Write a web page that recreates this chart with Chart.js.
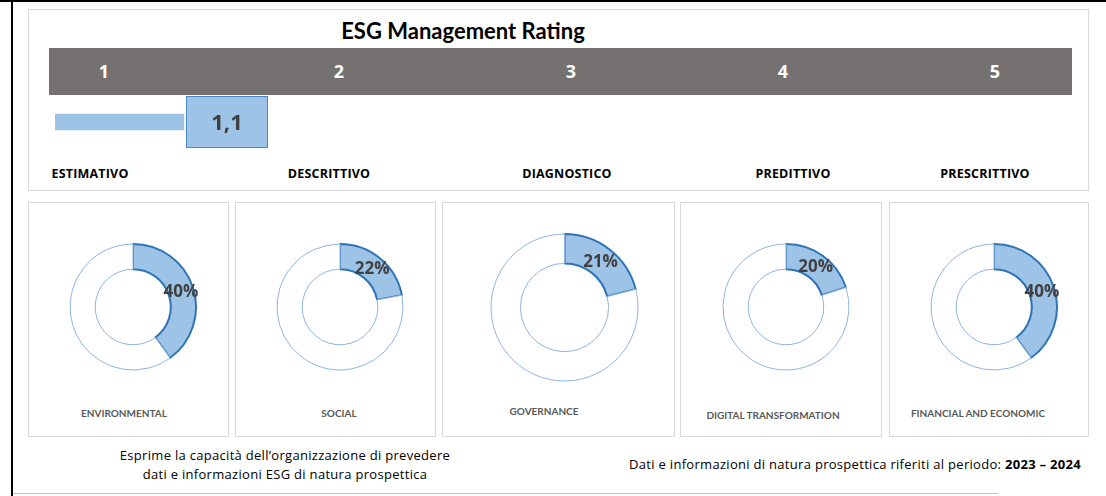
<!DOCTYPE html>
<html>
<head>
<meta charset="utf-8">
<script src="https://cdn.jsdelivr.net/npm/chart.js@4"></script>
<style>
  html, body { margin:0; padding:0; background:#fff; }
  body { width:1106px; height:496px; position:relative; overflow:hidden; font-family: Lato, "Open Sans", sans-serif; }
  .abs { position:absolute; }
  .frame { position:absolute; box-sizing:border-box; border:1px solid #D9D9D9; background:#fff; }
  .ctr { position:absolute; transform:translate(-50%,-50%); white-space:nowrap; }
  canvas { position:absolute; }
</style>
</head>
<body>
<script>
// ---- data ----
const chartTitle = 'ESG Management Rating';
const levels = ['1', '2', '3', '4', '5'];
const levelNames = ['ESTIMATIVO', 'DESCRITTIVO', 'DIAGNOSTICO', 'PREDITTIVO', 'PRESCRITTIVO'];
const ratingValue = [1.1];
const ratingMax = 5;
const areas = ['ENVIRONMENTAL', 'SOCIAL', 'GOVERNANCE', 'DIGITAL TRANSFORMATION', 'FINANCIAL AND ECONOMIC'];
const areaScores = [40, 22, 21, 20, 40];
const noteLines = ['Esprime la capacità dell’organizzazione di prevedere', 'dati e informazioni ESG di natura prospettica'];
const periodText = 'Dati e informazioni di natura prospettica riferiti al periodo: ';
const periodValue = '2023 – 2024';

// ---- layout (positions & styles) ----
const levelNumX = [104, 339, 571, 783, 995];
const levelNameX = [90, 329, 567, 793, 985];
const panelBoxes = [[28, 201], [235, 201], [442, 233], [680, 202], [889, 200]];
const donutGeo = [[133, 307, 63], [340, 307, 63], [564, 307, 73.5], [786, 307, 63], [994, 307, 63]];
const areaLabelPos = [[124, 413], [339, 413], [544, 411], [773, 415], [978, 413]];

function el(tag, cls, css, text) {
  const e = document.createElement(tag);
  if (cls) e.className = cls;
  Object.assign(e.style, css || {});
  if (text !== undefined) e.textContent = text;
  document.body.appendChild(e);
  return e;
}
const px = v => v + 'px';

// outer lines
el('div', 'abs', {left:'0px', top:'0px', width:'1106px', height:'2px', background:'#000'});
el('div', 'abs', {left:'11px', top:'0px', width:'2px', height:'496px', background:'#000'});
el('div', 'abs', {left:'13px', top:'493px', width:'985px', height:'1px', background:'#BFBFBF'});

// top panel
el('div', 'frame', {left:'28px', top:'9px', width:'1061px', height:'182px'});
el('div', 'ctr', {left:'463px', top:'30px', font:'bold 22px Lato', color:'#000'}, chartTitle);
el('div', 'abs', {left:'49px', top:'48px', width:'1023px', height:'47px', background:'#767171'});
levels.forEach((t, i) => el('div', 'ctr', {left:px(levelNumX[i]), top:'71px', font:'bold 18px "Open Sans"', color:'#fff'}, t));
levelNames.forEach((t, i) => el('div', 'ctr', {left:px(levelNameX[i]), top:'173px', font:'bold 12.5px "Open Sans"', letterSpacing:'0.2px', color:'#000'}, t));

// rating bar chart
const rc = el('canvas', '', {left:'55px', top:'96px'});
rc.width = 586; rc.height = 52;
rc.style.width = '586px'; rc.style.height = '52px';

const fmtIt = v => String(v).replace('.', ',');
const ratingBoxPlugin = {
  id: 'ratingBox',
  afterDatasetsDraw(chart) {
    const bar = chart.getDatasetMeta(0).data[0];
    const ctx = chart.ctx;
    const a = chart.chartArea;
    const x0 = Math.round(bar.x) + 2, w = 82;
    ctx.save();
    ctx.fillStyle = '#9DC3E6';
    ctx.fillRect(x0, a.top, w, a.height);
    ctx.strokeStyle = '#4A86C5';
    ctx.lineWidth = 1;
    ctx.strokeRect(x0 + 0.5, a.top + 0.5, w - 1, a.height - 1);
    ctx.fillStyle = '#404040';
    ctx.font = 'bold 22px "Open Sans"';
    ctx.textAlign = 'center';
    ctx.textBaseline = 'middle';
    ctx.fillText(fmtIt(chart.data.datasets[0].data[0]), x0 + w / 2, a.top + a.height / 2 + 2);
    ctx.restore();
  }
};

new Chart(rc, {
  type: 'bar',
  data: { labels: ['Rating'], datasets: [{ data: ratingValue, backgroundColor: '#9DC3E6', borderWidth: 0, barThickness: 16 }] },
  options: {
    indexAxis: 'y', responsive: false, animation: false, events: [],
    layout: { padding: 0 },
    plugins: { legend: { display: false }, tooltip: { enabled: false } },
    scales: { x: { display: false, min: 0, max: ratingMax }, y: { display: false } }
  },
  plugins: [ratingBoxPlugin]
});

// donut panels
const pctPlugin = {
  id: 'pctLabel',
  afterDatasetsDraw(chart) {
    const arc = chart.getDatasetMeta(0).data[0];
    const p = arc.tooltipPosition();
    const ctx = chart.ctx;
    ctx.save();
    ctx.fillStyle = '#404040';
    ctx.font = 'bold 17px "Open Sans"';
    ctx.textAlign = 'center';
    ctx.textBaseline = 'middle';
    ctx.fillText(chart.data.datasets[0].data[0] + '%', p.x, p.y + 1);
    ctx.restore();
  }
};

areas.forEach((name, i) => {
  const [bx, bw] = panelBoxes[i];
  el('div', 'frame', {left:px(bx), top:'202px', width:px(bw), height:'235px'});
  const [cx, cy, r] = donutGeo[i];
  const size = Math.ceil(2 * r + 12);
  const c = el('canvas', '', {left:px(cx - size / 2), top:px(cy - size / 2)});
  c.width = size; c.height = size;
  c.style.width = px(size); c.style.height = px(size);
  new Chart(c, {
    type: 'doughnut',
    data: {
      labels: [name, ''],
      datasets: [{
        data: [areaScores[i], 100 - areaScores[i]],
        backgroundColor: ['#9DC3E6', '#FFFFFF'],
        borderColor: ['#2E75B6', '#8DB4E2'],
        borderWidth: [2, 1]
      }]
    },
    options: {
      responsive: false, animation: false, events: [],
      radius: r, cutout: '60%',
      layout: { padding: 0 },
      plugins: { legend: { display: false }, tooltip: { enabled: false } }
    },
    plugins: [pctPlugin]
  });
  el('div', 'ctr', {left:px(areaLabelPos[i][0]), top:px(areaLabelPos[i][1]), font:'bold 10px Lato', color:'#595959'}, name);
});

// footer texts
const footCss = {font:'13px "Open Sans"', letterSpacing:'0.3px', color:'#000'};
el('div', 'ctr', Object.assign({left:'285px', top:'455px'}, footCss), noteLines[0]);
el('div', 'ctr', Object.assign({left:'285px', top:'474px'}, footCss), noteLines[1]);
const pt = el('div', 'abs', Object.assign({right:'25px', top:'455px', whiteSpace:'nowrap'}, footCss));
pt.appendChild(document.createTextNode(periodText));
const b = document.createElement('b');
b.textContent = periodValue;
pt.appendChild(b);
</script>
</body>
</html>
